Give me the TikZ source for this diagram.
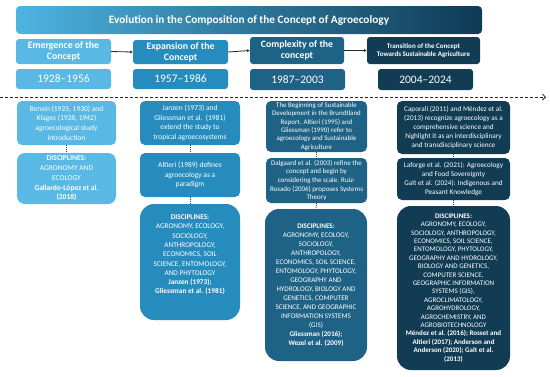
\documentclass[tikz,border=0pt]{standalone}
\usepackage{fontspec}
\setmainfont{Carlito}
\usetikzlibrary{arrows.meta}
\definecolor{cA}{RGB}{90,185,228}
\definecolor{cB}{RGB}{38,140,190}
\definecolor{cC}{RGB}{30,98,133}
\definecolor{cD}{RGB}{17,60,84}
\definecolor{tl}{RGB}{78,180,225}
\definecolor{tr}{RGB}{14,58,85}
\newcommand\myfs[2]{\fontsize{#1}{#2}\selectfont}
\begin{document}
\begin{tikzpicture}[x=1pt,y=-1pt,
  box/.style={rounded corners=5pt, fill=#1, text=white, align=center, inner sep=1pt, outer sep=0pt},
  bigbox/.style={box=#1, rounded corners=14pt},
  hdr/.style={box=#1, rounded corners=3pt, font=\bfseries\myfs{9.8}{11}},
  yr/.style={box=#1, rounded corners=3pt, font=\myfs{11.5}{12}},
  harrow/.style={draw=black!85, line width=0.8pt, -{Latex[length=3pt,width=3pt]}},
  conn/.style={draw=black!80, line width=0.7pt, dash pattern=on 1pt off 1pt},
  tline/.style={draw=black!85, line width=0.8pt, dash pattern=on 3pt off 2pt, -{Straight Barb[length=3pt,width=6pt]}}
]
\useasboundingbox (0,0) rectangle (550,376);
\fill[white] (0,0) rectangle (550,376);

% title
\node[rounded corners=4pt, left color=tl, right color=tr, minimum width=466pt, minimum height=28pt, inner sep=0pt, text=white, font=\bfseries\myfs{11.3}{13}] (title) at (249,20) {Evolution in the Composition of the Concept of Agroecology};

% headers
\node[hdr=cA, minimum width=95pt, minimum height=25pt] (h1) at (63.5,51.5) {Emergence of the\\Concept};
\node[hdr=cB, minimum width=95pt, minimum height=24pt] (h2) at (180.5,52) {Expansion of the\\Concept};
\node[hdr=cC, minimum width=94pt, minimum height=27pt] (h3) at (297,50.5) {Complexity of the\\concept};
\node[hdr=cD, minimum width=113pt, minimum height=27pt, font=\bfseries\myfs{7}{8.5}] (h4) at (423.5,50.5) {Transition of the Concept\\Towards Sustainable Agriculture};

\draw[harrow] (h1.east) -- (h2.west);
\draw[harrow] (h2.east) -- (h3.west);
\draw[harrow] (h3.east) -- (h4.west);

% years
\node[yr=cA, minimum width=95pt, minimum height=20pt] (y1) at (63.5,79) {1928–1956};
\node[yr=cB, minimum width=95pt, minimum height=20pt] (y2) at (180.5,79) {1957–1986};
\node[yr=cC, minimum width=95pt, minimum height=21pt] (y3) at (297.5,79.5) {1987–2003};
\node[yr=cD, minimum width=95pt, minimum height=21pt] (y4) at (425.5,79.5) {2004–2024};

% timeline
\coordinate (ts) at (0,97);
\coordinate (te) at (546,97);
\draw[tline] (ts) -- (te);

% column 1
\node[box=cA, minimum width=99pt, minimum height=44pt, font=\myfs{7.5}{9.7}] (a1) at (66.5,123) {Bensin (1925, 1930) and\\Klages (1928, 1942)\\agroecological study\\introduction};
\node[box=cA, rounded corners=8pt, minimum width=99pt, minimum height=51pt, font=\myfs{7.5}{9.7}] (b1) at (66.5,178.5) {\textbf{DISCIPLINES:}\\AGRONOMY AND\\ECOLOGY\\\textbf{Gallardo-López et al.}\\\textbf{(2018)}};
\draw[conn] (a1.south) -- (b1.north);

% column 2
\node[box=cB, minimum width=100pt, minimum height=44pt, font=\myfs{7.5}{9.7}] (a2) at (190,123) {Janzen (1973) and\\Gliessman et al.\ \ (1981)\\extend the study to\\tropical agroecosystems};
\node[box=cB, minimum width=100pt, minimum height=44pt, font=\myfs{7.5}{9.7}] (b2) at (190,175) {Altieri (1989) defines\\agroecology as a\\paradigm};
\node[bigbox=cB, minimum width=100pt, minimum height=116pt, font=\myfs{7.3}{9.3}] (c2) at (190,262) {\textbf{DISCIPLINES:}\\AGRONOMY, ECOLOGY,\\SOCIOLOGY,\\ANTHROPOLOGY,\\ECONOMICS, SOIL\\SCIENCE, ENTOMOLOGY,\\AND PHYTOLOGY\\\textbf{Janzen (1973);}\\\textbf{Gliessman et al. (1981)}\\[6pt]};
\draw[conn] (a2.south) -- (b2.north);
\draw[conn] (b2.south) -- (c2.north);

% column 3
\node[box=cC, minimum width=101pt, minimum height=51pt, font=\myfs{6.9}{8.3}] (a3) at (316.5,126.5) {The Beginning of Sustainable\\Development in the Brundtland\\Report. Altieri (1995) and\\Gliessman (1990) refer to\\agroecology and Sustainable\\Agriculture};
\node[box=cC, minimum width=101pt, minimum height=45pt, font=\myfs{7}{8.6}] (b3) at (316.5,180.5) {Dalgaard et al. (2003) refine the\\concept and begin by\\considering the scale. Ruiz-\\Rosado (2006) proposes Systems\\Theory};
\node[bigbox=cC, minimum width=102pt, minimum height=152pt, font=\myfs{7.1}{9}] (c3) at (316,285) {\textbf{DISCIPLINES:}\\AGRONOMY, ECOLOGY,\\SOCIOLOGY,\\ANTHROPOLOGY,\\ECONOMICS, SOIL SCIENCE,\\ENTOMOLOGY, PHYTOLOGY,\\GEOGRAPHY AND\\HYDROLOGY, BIOLOGY AND\\GENETICS, COMPUTER\\SCIENCE, AND GEOGRAPHIC\\INFORMATION SYSTEMS\\(GIS)\\\textbf{Gliessman (2016);}\\\textbf{Wezel et al. (2009)}};
\draw[conn] (a3.south) -- (b3.north);
\draw[conn] (b3.south) -- (c3.north);

% column 4
\node[box=cD, minimum width=113pt, minimum height=53pt, font=\myfs{7.2}{9.2}] (a4) at (453.5,127.5) {Caporali (2011) and Méndez et al.\\(2013) recognize agroecology as a\\comprehensive science and\\highlight it as an interdisciplinary\\and transdisciplinary science};
\node[box=cD, minimum width=113pt, minimum height=42pt, font=\myfs{7.2}{9}] (b4) at (453.5,179) {Laforge et al. (2021): Agroecology\\and Food Sovereignty\\Galt et al. (2024): Indigenous and\\Peasant Knowledge};
\node[bigbox=cD, minimum width=113pt, minimum height=164pt, font=\myfs{7}{8.4}] (c4) at (453.5,288) {\textbf{DISCIPLINES:}\\AGRONOMY, ECOLOGY,\\SOCIOLOGY, ANTHROPOLOGY,\\ECONOMICS, SOIL SCIENCE,\\ENTOMOLOGY, PHYTOLOGY,\\GEOGRAPHY AND HYDROLOGY,\\BIOLOGY AND GENETICS,\\COMPUTER SCIENCE,\\GEOGRAPHIC INFORMATION\\SYSTEMS (GIS),\\AGROCLIMATOLOGY,\\AGROHYDROLOGY,\\AGROCHEMISTRY, AND\\AGROBIOTECHNOLOGY\\\textbf{Méndez et al. (2016); Rosset and}\\\textbf{Altieri (2017); Anderson and}\\\textbf{Anderson (2020); Galt et al.}\\\textbf{(2013)}};
\draw[conn] (a4.south) -- (b4.north);
\draw[conn] (b4.south) -- (c4.north);
\end{tikzpicture}
\end{document}
